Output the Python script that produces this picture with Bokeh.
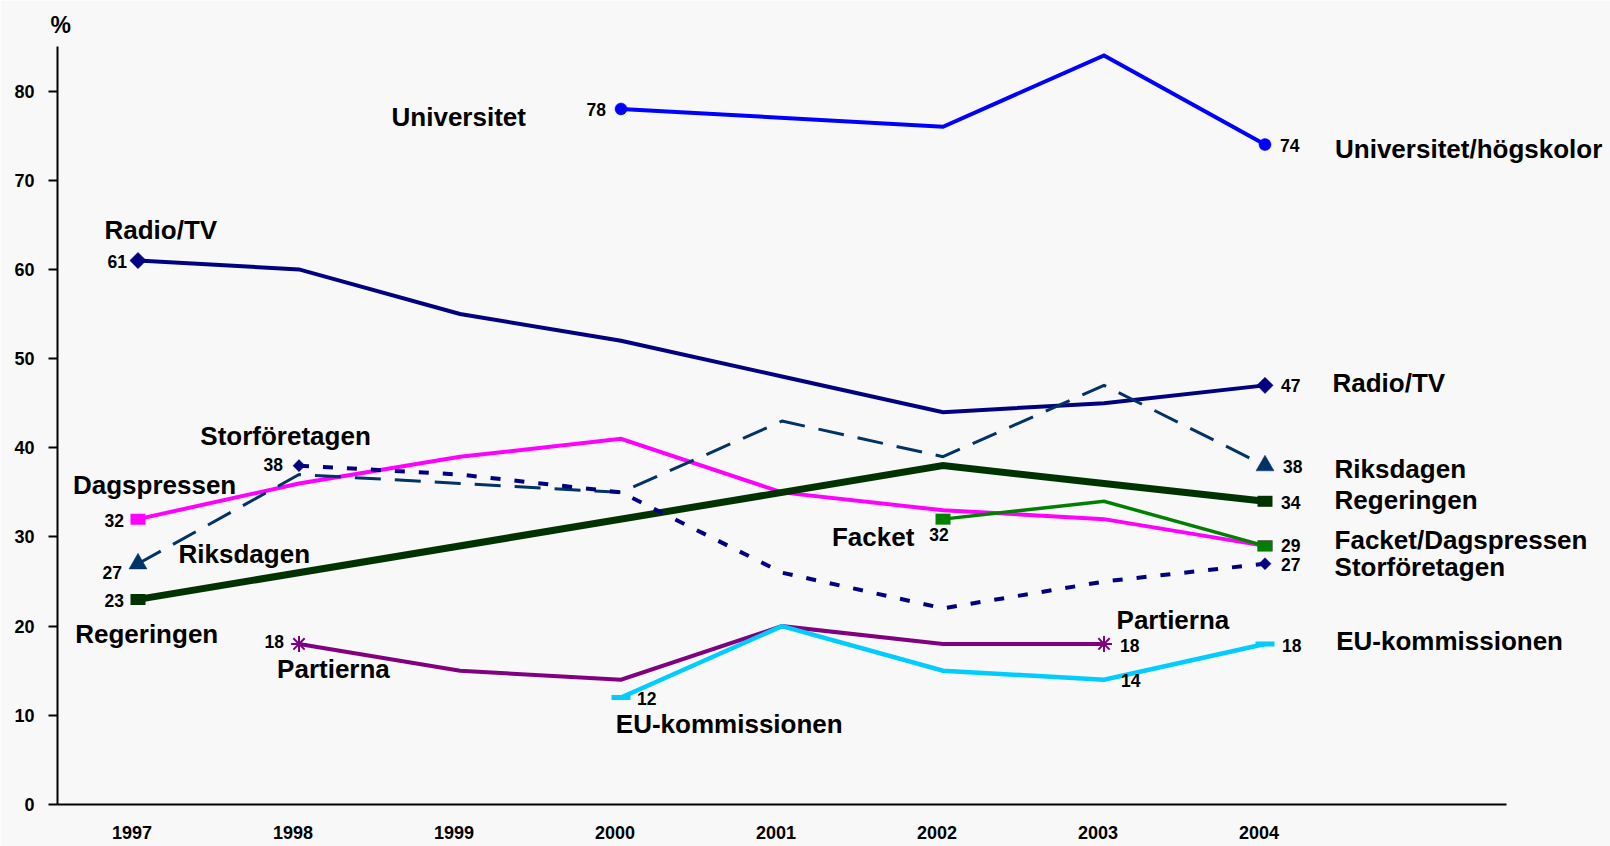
import math
from bokeh.plotting import figure
from bokeh.models import (Range1d, FixedTicker, CustomJSTickFormatter,
                          LabelSet, ColumnDataSource)
from bokeh.core.properties import value
from bokeh.embed import file_html
from bokeh.resources import INLINE

# ---------------- data ----------------
years = [1997, 1998, 1999, 2000, 2001, 2002, 2003, 2004]
universitet = [None, None, None, 78, None, 76, 84, 74]
radio_tv = [61, 60, 55, 52, 48, 44, 45, 47]
riksdagen = [27, 37, 36, 35, 43, 39, 47, 38]
storforetagen = [None, 38, 37, 35, 26, 22, 25, 27]
dagspressen = [32, 36, 39, 41, 35, 33, 32, 29]
regeringen = [23, None, None, None, None, 38, 36, 34]
facket = [None, None, None, None, None, 32, 34, 29]
partierna = [None, 18, 15, 14, 20, 18, 18, None]
eu_kommissionen = [None, None, None, 12, 20, 15, 14, 18]
y_ticks = [0, 10, 20, 30, 40, 50, 60, 70, 80]

series = {
    "universitet": universitet,
    "radio_tv": radio_tv,
    "riksdagen": riksdagen,
    "storforetagen": storforetagen,
    "dagspressen": dagspressen,
    "regeringen": regeringen,
    "facket": facket,
    "partierna": partierna,
    "eu": eu_kommissionen,
}

# ---------------- styles ----------------
FONT = "Liberation Sans"
styles = {
    "universitet":   dict(color="#0000FF", width=4, dash="solid", marker="circle", size=12, angle=0),
    "radio_tv":      dict(color="#000080", width=4, dash="solid", marker="square", size=11.5, angle=math.pi / 4),
    "dagspressen":   dict(color="#FF00FF", width=4, dash="solid", marker="rect"),
    "regeringen":    dict(color="#003300", width=7, dash="solid", marker="rect"),
    "riksdagen":     dict(color="#003366", width=3, dash="26 14", marker="triangle", size=18, angle=0),
    "storforetagen": dict(color="#000080", width=4, dash="10 14", marker="square", size=8.5, angle=math.pi / 4),
    "facket":        dict(color="#008000", width=3.5, dash="solid", marker="rect"),
    "partierna":     dict(color="#800080", width=4, dash="solid", marker="asterisk", size=16, angle=0),
    "eu":            dict(color="#00CCFF", width=4.5, dash="solid", marker="dash", size=19, angle=0),
}
draw_order = ["universitet", "radio_tv", "dagspressen", "regeringen", "riksdagen",
              "storforetagen", "facket", "partierna", "eu"]

# series name labels (text, x, y in data units, left aligned, alphabetic baseline)
name_labels = [
    ("Universitet", 1998.575, 76.07),
    ("Universitet/högskolor", 2004.435, 72.52),
    ("Radio/TV", 1996.792, 63.43),
    ("Radio/TV", 2004.419, 46.21),
    ("Storföretagen", 1997.387, 40.33),
    ("Dagspressen", 1996.596, 34.80),
    ("Riksdagen", 1997.252, 27.05),
    ("Regeringen", 1996.610, 18.14),
    ("Partierna", 1997.864, 14.14),
    ("EU-kommissionen", 1999.968, 7.97),
    ("Facket", 2001.310, 29.03),
    ("Partierna", 2003.078, 19.65),
    ("Riksdagen", 2004.432, 36.60),
    ("Regeringen", 2004.432, 33.15),
    ("Facket/Dagspressen", 2004.432, 28.66),
    ("Storföretagen", 2004.432, 25.63),
    ("EU-kommissionen", 2004.442, 17.32),
]

# value labels: (series, year, align, dx px, dy px downward)
value_labels = [
    ("universitet", 2000, "right", -15, 7),
    ("universitet", 2004, "left", 15, 7),
    ("radio_tv", 1997, "right", -11, 7),
    ("radio_tv", 2004, "left", 16, 7),
    ("storforetagen", 1998, "right", -16, 5),
    ("storforetagen", 2004, "left", 16, 7),
    ("riksdagen", 1997, "right", -16, 15),
    ("riksdagen", 2004, "left", 18, 7.5),
    ("dagspressen", 1997, "right", -14, 7.5),
    ("facket", 2004, "left", 16, 6.5),
    ("regeringen", 1997, "right", -14, 8),
    ("regeringen", 2004, "left", 16, 7.5),
    ("facket", 2002, "center", -4, 21.5),
    ("partierna", 1998, "right", -15, 4),
    ("partierna", 2003, "left", 16, 7.7),
    ("eu", 2000, "left", 16, 7.6),
    ("eu", 2003, "left", 17, 7),
    ("eu", 2004, "left", 17, 7.7),
]

X_LABEL_SHIFT = -0.037
X_AXIS_BOUNDS = (1996.5, 2005.5)
Y_AXIS_BOUNDS = (0, 85)
FRAME_W = 1553

# ---------------- figure ----------------
p = figure(frame_width=FRAME_W, frame_height=758,
           x_range=Range1d(1996.5, 1996.5 + FRAME_W / 161.0), y_range=Range1d(0, 85),
           output_backend="svg", toolbar_location=None,
           min_border_left=57, min_border_right=0, min_border_top=46, min_border_bottom=42,
           background_fill_color="#f8f8f8", border_fill_color="#f8f8f8",
           outline_line_color=None)
p.xgrid.visible = False
p.ygrid.visible = False

p.title.text = "%"
p.title.align = "left"
p.title.offset = -7
p.title.standoff = 17
p.title.text_font = FONT
p.title.text_font_style = "bold"
p.title.text_font_size = "23px"
p.title.text_color = "black"

for key in draw_order:
    vals = series[key]
    st = styles[key]
    xs = [x for x, v in zip(years, vals) if v is not None]
    ys = [v for v in vals if v is not None]
    p.line(xs, ys, line_color=st["color"], line_width=st["width"], line_dash=st["dash"],
           line_join="miter" if st["dash"] == "solid" else "round")
    mx = [xs[0], xs[-1]]
    my = [ys[0], ys[-1]]
    if st["marker"] == "rect":
        p.rect(mx, my, width=15, height=11, width_units="screen", height_units="screen",
               fill_color=st["color"], line_color=None)
    elif st["marker"] in ("asterisk", "dash"):
        p.scatter(mx, my, marker=st["marker"], size=st["size"], line_color=st["color"],
                  line_width=2 if st["marker"] == "asterisk" else 5)
    else:
        p.scatter(mx, my, marker=st["marker"], size=st["size"], angle=st["angle"],
                  fill_color=st["color"], line_color=st["color"], line_width=0.5)

# axes
for ax in p.xaxis:
    ax.bounds = X_AXIS_BOUNDS
    ax.ticker = FixedTicker(ticks=[y + X_LABEL_SHIFT for y in years])
    ax.formatter = CustomJSTickFormatter(code="return String(Math.round(tick));")
    ax.major_tick_out = 0
    ax.major_tick_in = 0
    ax.minor_tick_out = 0
    ax.minor_tick_in = 0
    ax.axis_line_width = 2
    ax.axis_line_color = "black"
    ax.major_label_standoff = 21
    ax.major_label_text_font = FONT
    ax.major_label_text_font_style = "bold"
    ax.major_label_text_font_size = "18px"
    ax.major_label_text_color = "black"

for ax in p.yaxis:
    ax.bounds = Y_AXIS_BOUNDS
    ax.ticker = FixedTicker(ticks=y_ticks)
    ax.major_tick_out = 9
    ax.major_tick_in = 0
    ax.minor_tick_out = 0
    ax.minor_tick_in = 0
    ax.major_tick_line_width = 2
    ax.major_tick_line_color = "black"
    ax.axis_line_width = 2
    ax.axis_line_color = "black"
    ax.major_label_standoff = 14
    ax.major_label_text_font = FONT
    ax.major_label_text_font_style = "bold"
    ax.major_label_text_font_size = "18px"
    ax.major_label_text_color = "black"

# series names
name_src = ColumnDataSource(dict(x=[n[1] for n in name_labels],
                                 y=[n[2] for n in name_labels],
                                 text=[n[0] for n in name_labels]))
p.add_layout(LabelSet(x="x", y="y", text="text", source=name_src,
                      text_align="left", text_baseline="alphabetic",
                      text_font=value(FONT), text_font_style="bold", text_font_size="26px",
                      text_color="black"))

# value labels
for align in ("left", "right", "center"):
    rows = [v for v in value_labels if v[2] == align]
    if not rows:
        continue
    xs, ys, ts, dxs, dys = [], [], [], [], []
    for key, yr, _, dx, dy in rows:
        val = series[key][years.index(yr)]
        xs.append(yr)
        ys.append(val)
        ts.append(str(val))
        dxs.append(dx)
        dys.append(-dy)
    src = ColumnDataSource(dict(x=xs, y=ys, text=ts, dx=dxs, dy=dys))
    p.add_layout(LabelSet(x="x", y="y", text="text", source=src,
                          x_offset="dx", y_offset="dy",
                          text_align=align, text_baseline="alphabetic",
                          text_font=value(FONT), text_font_style="bold", text_font_size="17.5px",
                          text_color="black"))

open("out.html", "w").write(file_html(p, INLINE))
